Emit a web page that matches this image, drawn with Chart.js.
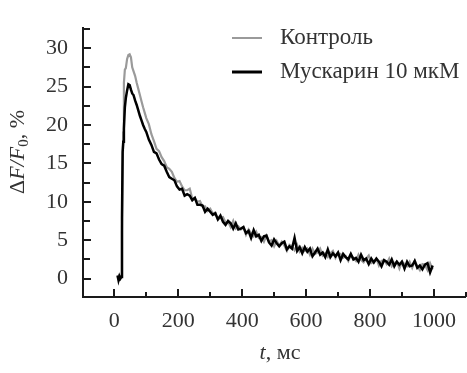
<!DOCTYPE html>
<html>
<head>
<meta charset="utf-8">
<script src="https://cdn.jsdelivr.net/npm/chart.js@4"></script>
<style>
  html, body { margin: 0; padding: 0; background: #fff; }
  canvas { display: block; }
</style>
</head>
<body>
<canvas id="chart" width="467" height="373"></canvas>
<script>
// time samples, ms
const times = [
  10, 13, 16, 19, 22, 24, 26, 28, 30, 33, 36, 40, 44, 48, 52, 56, 60, 65, 70, 75, 80, 85, 90, 95,
  100, 108, 116, 124, 132, 140, 148, 156, 164, 172,
  180, 188, 196, 204, 212, 220, 228, 236, 244, 252,
  260, 268, 276, 284, 292, 300, 308, 316, 324, 332,
  340, 348, 356, 364, 372, 380, 388, 396, 404, 412,
  420, 428, 436, 444, 452, 460, 468, 476, 484, 492,
  500, 508, 516, 524, 532, 540, 548, 556, 564, 572,
  580, 588, 596, 604, 612, 620, 628, 636, 644, 652,
  660, 668, 676, 684, 692, 700, 708, 716, 724, 732,
  740, 748, 756, 764, 772, 780, 788, 796, 804, 812,
  820, 828, 836, 844, 852, 860, 868, 876, 884, 892,
  900, 908, 916, 924, 932, 940, 948, 956, 964, 972,
  980, 988, 996
];

// Контроль, dF/F0 %
const control = [
  0.1, 0.3, -0.1, 0.2, 0.3, 6.0, 14.0, 19.0, 25.5, 27.2, 27.4, 28.6, 29.1, 29.2, 28.8, 27.5, 27.0, 26.4, 25.5, 24.7, 23.9, 23.1, 22.3, 21.6,
  20.9, 20.1, 18.8, 17.9, 16.9, 16.6, 15.8, 15.3, 14.5, 14.3,
  13.9, 13.1, 12.6, 12.7, 12.0, 11.5, 11.5, 11.7, 10.4, 10.5,
  10.0, 10.1, 9.4, 9.4, 8.8, 9.1, 8.5, 8.6, 7.7, 7.9,
  8.0, 7.3, 7.4, 6.7, 7.5, 6.5, 6.8, 6.4, 6.7, 5.7,
  6.4, 5.9, 5.5, 6.1, 5.3, 5.4, 4.8, 5.6, 4.8, 5.0,
  4.2, 4.9, 4.3, 4.8, 4.3, 3.6, 4.4, 4.2, 3.7, 4.4,
  3.5, 4.0, 3.6, 3.9, 3.1, 3.9, 3.2, 3.4, 3.9, 3.0,
  3.3, 2.8, 3.3, 3.6, 2.7, 3.3, 3.2, 2.7, 2.9, 2.3,
  3.1, 2.7, 2.3, 3.1, 2.4, 2.1, 2.6, 3.0, 2.0, 2.2,
  2.6, 1.7, 2.3, 2.4, 1.9, 2.6, 1.6, 2.0, 2.2, 1.3,
  2.2, 1.9, 1.6, 2.2, 1.4, 2.3, 1.6, 1.1, 1.9, 1.8,
  1.1, 2.0, 1.2
];

// Мускарин 10 мкМ, dF/F0 %
const muscarine = [
  0.4, -0.2, 0.3, 0.0, 0.2, 8.0, 16.5, 17.8, 19.5, 22.3, 23.5, 24.5, 25.3, 25.2, 24.6, 24.1, 23.9, 23.2, 22.6, 21.9, 21.2, 20.6, 20.0, 19.5,
  19.1, 18.1, 17.4, 16.5, 16.3, 15.5, 14.9, 14.7, 13.9, 13.2,
  13.0, 12.8, 12.0, 11.6, 11.7, 10.8, 11.0, 10.8, 10.2, 10.5,
  9.6, 9.6, 9.5, 8.7, 9.1, 8.7, 8.3, 8.5, 7.7, 8.2,
  7.4, 7.0, 7.5, 7.2, 6.5, 7.2, 6.4, 6.5, 6.7, 5.9,
  6.2, 5.3, 6.3, 5.5, 5.7, 4.9, 5.5, 5.6, 4.7, 4.3,
  5.1, 4.6, 4.2, 4.6, 4.8, 3.8, 4.2, 3.9, 5.3, 3.6,
  4.1, 3.3, 4.1, 3.5, 3.9, 2.9, 3.4, 3.9, 3.1, 3.4,
  2.8, 3.8, 2.8, 3.3, 2.9, 3.4, 2.4, 3.2, 2.8, 2.5,
  3.2, 2.5, 2.7, 2.2, 3.1, 2.4, 2.6, 1.9, 2.6, 2.1,
  2.6, 2.2, 1.6, 2.4, 2.2, 1.8, 2.5, 1.6, 2.2, 1.8,
  2.2, 1.3, 2.2, 1.6, 1.7, 2.3, 1.4, 1.7, 1.2, 1.8,
  2.0, 0.8, 1.7
];

const seriesLabels = ["Контроль", "Мускарин 10 мкМ"];
const xTickValues = [0, 200, 400, 600, 800, 1000];
const xMinorTicks = [100, 300, 500, 700, 900, 1100];
const yTickValues = [0, 5, 10, 15, 20, 25, 30];
const yMinorTicks = [2.5, 7.5, 12.5, 17.5, 22.5, 27.5, 32.5];

const serif = '"Liberation Serif", "Times New Roman", serif';
const ink = "#1a1a1a";

function points(values) {
    return times.map((t, i) => ({ x: t, y: values[i] }));
}

// ticks point into the plot, plus the legend and axis titles
const decorPlugin = {
    id: "decor",
    afterDraw(chart) {
        const { ctx, chartArea: a, scales: { x, y } } = chart;
        ctx.save();
        ctx.strokeStyle = ink;
        ctx.lineWidth = 2;
        ctx.beginPath();
        xTickValues.forEach(v => {
            const px = Math.round(x.getPixelForValue(v));
            ctx.moveTo(px, a.bottom);
            ctx.lineTo(px, a.bottom - 8);
        });
        xMinorTicks.forEach(v => {
            const px = Math.round(x.getPixelForValue(v));
            ctx.moveTo(px, a.bottom);
            ctx.lineTo(px, a.bottom - 5);
        });
        yTickValues.forEach(v => {
            const py = Math.round(y.getPixelForValue(v));
            ctx.moveTo(a.left, py);
            ctx.lineTo(a.left + 8, py);
        });
        yMinorTicks.forEach(v => {
            const py = Math.round(y.getPixelForValue(v));
            ctx.moveTo(a.left, py);
            ctx.lineTo(a.left + 7, py);
        });
        ctx.stroke();

        // legend
        ctx.font = "23px " + serif;
        ctx.textBaseline = "middle";
        ctx.textAlign = "left";
        chart.data.datasets.forEach((ds, i) => {
            const ly = 38 + i * 34;
            ctx.strokeStyle = ds.borderColor;
            ctx.lineWidth = i === 0 ? 2 : 3;
            ctx.beginPath();
            ctx.moveTo(232, ly);
            ctx.lineTo(262, ly);
            ctx.stroke();
            ctx.fillStyle = "#333";
            ctx.fillText(ds.label, 280, ly);
        });

        // y title: ΔF/F0, %
        ctx.fillStyle = "#333";
        ctx.translate(18, 152);
        ctx.rotate(-Math.PI / 2);
        const parts = [
            { s: "Δ", f: "22px " + serif, dy: 0 },
            { s: "F/F", f: "italic 22px " + serif, dy: 0 },
            { s: "0", f: "15px " + serif, dy: 6 },
            { s: ", %", f: "22px " + serif, dy: 0 }
        ];
        let total = 0;
        parts.forEach(p => { ctx.font = p.f; p.w = ctx.measureText(p.s).width; total += p.w; });
        let cx = -total / 2;
        parts.forEach(p => { ctx.font = p.f; ctx.fillText(p.s, cx, p.dy); cx += p.w; });
        ctx.setTransform(1, 0, 0, 1, 0, 0);

        // x title: t, мс
        const xt = [
            { s: "t", f: "italic 22px " + serif },
            { s: ", мс", f: "22px " + serif }
        ];
        total = 0;
        xt.forEach(p => { ctx.font = p.f; p.w = ctx.measureText(p.s).width; total += p.w; });
        cx = 280 - total / 2;
        xt.forEach(p => { ctx.font = p.f; ctx.fillText(p.s, cx, 353); cx += p.w; });
        ctx.restore();
    }
};

new Chart(document.getElementById("chart"), {
    type: "line",
    data: {
        datasets: [
            {
                label: seriesLabels[0],
                data: points(control),
                borderColor: "#9a9a9a",
                borderWidth: 2.2,
                pointRadius: 0,
                tension: 0,
                order: 1
            },
            {
                label: seriesLabels[1],
                data: points(muscarine),
                borderColor: "#000000",
                borderWidth: 2.5,
                pointRadius: 0,
                tension: 0,
                order: 0
            }
        ]
    },
    options: {
        responsive: false,
        animation: false,
        layout: { padding: { top: 6, right: 1, left: 0, bottom: 0 } },
        plugins: {
            legend: { display: false },
            tooltip: { enabled: false }
        },
        scales: {
            x: {
                type: "linear",
                min: -98,
                max: 1100,
                afterFit: s => { s.height = 76; },
                afterBuildTicks: s => { s.ticks = xTickValues.map(v => ({ value: v })); },
                grid: { display: false, drawTicks: false },
                border: { display: true, color: ink, width: 2 },
                ticks: {
                    autoSkip: false,
                    maxRotation: 0,
                    padding: 11,
                    color: "#333",
                    font: { family: serif, size: 22 },
                    callback: v => String(v)
                }
            },
            y: {
                min: -2.4,
                max: 32.6,
                afterFit: s => { s.width = 83; },
                afterBuildTicks: s => { s.ticks = yTickValues.map(v => ({ value: v })); },
                grid: { display: false, drawTicks: false },
                border: { display: true, color: ink, width: 2 },
                ticks: {
                    autoSkip: false,
                    padding: 15,
                    color: "#333",
                    font: { family: serif, size: 22 },
                    callback: v => String(v)
                }
            }
        }
    },
    plugins: [decorPlugin]
});
</script>
</body>
</html>
